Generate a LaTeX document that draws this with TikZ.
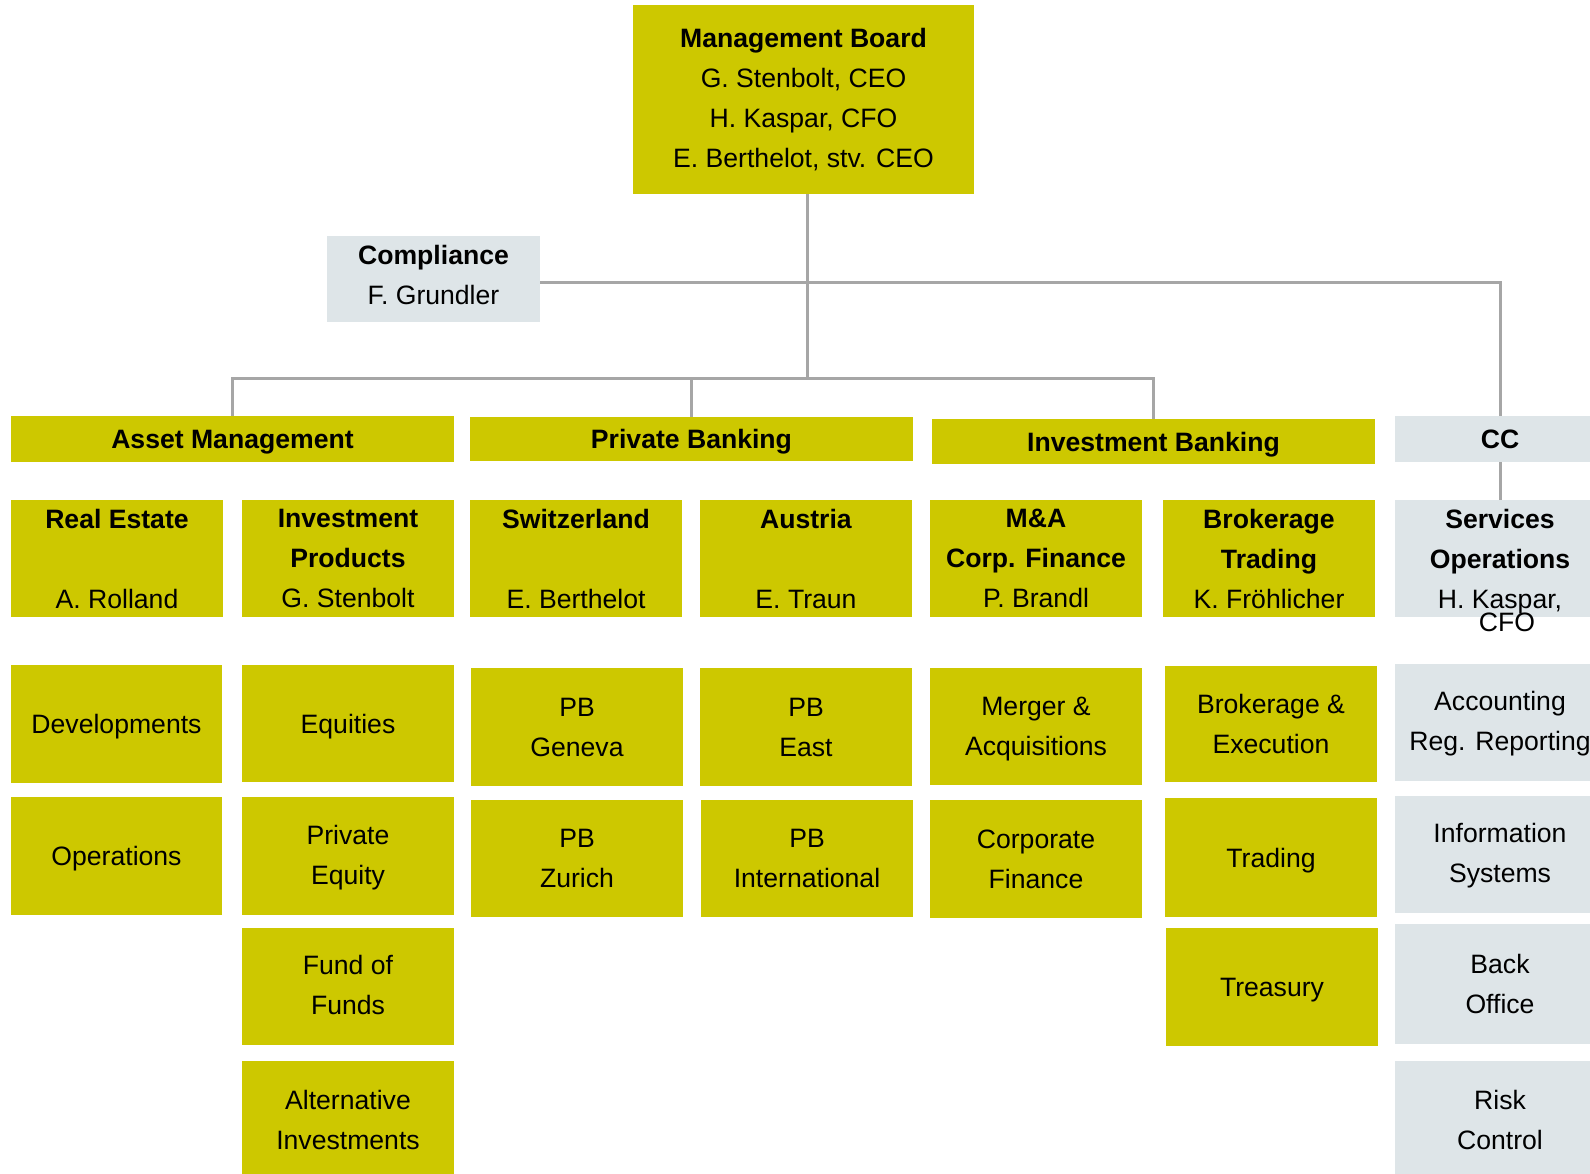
\documentclass[tikz,border=0pt]{standalone}
\usepackage{fontspec}
\setmainfont{Liberation Sans}
\definecolor{boxyellow}{RGB}{205,200,0}
\definecolor{boxgray}{RGB}{222,229,232}
\definecolor{linegray}{RGB}{166,166,166}
\begin{document}
\begin{tikzpicture}[x=1pt,y=-1pt,
  base/.style={inner sep=0pt, outer sep=0pt, anchor=north west, align=center,
    font=\fontsize{26.6}{40}\selectfont, text=black, text depth=0pt},
  ybox/.style={base, fill=boxyellow},
  gbox/.style={base, fill=boxgray},
  conn/.style={draw=linegray, line width=3pt},
  sz/.style 2 args={minimum width=#1pt, minimum height=#2pt}]
\clip (0,0) rectangle (1590,1173);
\fill[white] (0,0) rectangle (1590,1173);

% top
\node[ybox, sz={341}{189}, text depth=4pt] (mb) at (633,5) {\textbf{Management Board}\\G. Stenbolt, CEO\\H. Kaspar, CFO\\E. Berthelot, stv. CEO};
\node[gbox, sz={213}{86}, text depth=9pt] (comp) at (327,236) {\textbf{Compliance}\\F. Grundler};

% headers
\node[ybox, sz={443}{46}] (am) at (11,416) {\textbf{Asset Management}};
\node[ybox, sz={443}{44}] (pb) at (470,417) {\textbf{Private Banking}};
\node[ybox, sz={443}{45}] (ib) at (932,419) {\textbf{Investment Banking}};
\node[gbox, sz={210}{46}] (cc) at (1395,416) {\textbf{CC}};

% row 2
\node[ybox, sz={212}{117}] (re) at (11,500) {\textbf{Real Estate}\\~\\A. Rolland};
\node[ybox, sz={212}{117}] (ip) at (242,500) {\textbf{Investment}\\\textbf{Products}\\G. Stenbolt};
\node[ybox, sz={212}{117}] (sw) at (470,500) {\textbf{Switzerland}\\~\\E. Berthelot};
\node[ybox, sz={212}{117}] (at) at (700,500) {\textbf{Austria}\\~\\E. Traun};
\node[ybox, sz={212}{117}] (ma) at (930,500) {\textbf{M\&A}\\\textbf{Corp. Finance}\\P. Brandl};
\node[ybox, sz={212}{117}] (bt) at (1163,500) {\textbf{Brokerage}\\\textbf{Trading}\\K. Fröhlicher};
\node[gbox, sz={210}{117}] (svc) at (1395,500) {\textbf{Services}\\\textbf{Operations}\\H. Kaspar,};
\node[inner sep=0pt, font=\fontsize{26.6}{40}\selectfont] (cfo) at (1507,622) {CFO};

% row 3
\node[ybox, sz={211}{118}] (dev) at (11,665) {Developments};
\node[ybox, sz={212}{117}] (eq) at (242,665) {Equities};
\node[ybox, sz={212}{118}] (gen) at (471,668) {PB\\Geneva};
\node[ybox, sz={212}{118}] (east) at (700,668) {PB\\East};
\node[ybox, sz={212}{117}] (mer) at (930,668) {Merger \&\\Acquisitions};
\node[ybox, sz={212}{116}] (bex) at (1165,666) {Brokerage \&\\Execution};
\node[gbox, sz={210}{117}, text depth=3pt] (acc) at (1395,664) {Accounting\\Reg. Reporting};

% row 4
\node[ybox, sz={211}{118}] (ops) at (11,797) {Operations};
\node[ybox, sz={212}{118}, text depth=2pt] (peq) at (242,797) {Private\\Equity};
\node[ybox, sz={212}{117}] (zur) at (471,800) {PB\\Zurich};
\node[ybox, sz={212}{117}] (intl) at (701,800) {PB\\International};
\node[ybox, sz={212}{118}] (cf) at (930,800) {Corporate\\Finance};
\node[ybox, sz={212}{119}] (trd) at (1165,798) {Trading};
\node[gbox, sz={210}{117}, text depth=3pt] (isys) at (1395,796) {Information\\Systems};

% row 5
\node[ybox, sz={212}{117}, text depth=3pt] (fof) at (242,928) {Fund of\\Funds};
\node[ybox, sz={212}{118}] (trs) at (1166,928) {Treasury};
\node[gbox, sz={210}{120}] (bo) at (1395,924) {Back\\Office};

% row 6
\node[ybox, sz={212}{117}] (alt) at (242,1061) {Alternative\\Investments};
\node[gbox, sz={210}{117}] (risk) at (1395,1061) {Risk\\Control};

% connectors
\coordinate (bus) at (807,379);
\coordinate (cline) at (807,282);
\draw[conn] (mb.south -| bus) -- (bus);
\draw[conn] (comp.east |- cline) -| (cc.north);
\draw[conn] (am.north) -- ++(0,-38) -| (ib.north);
\draw[conn] (pb.north) -- (pb.north |- bus);
\draw[conn] (cc.south) -- (svc.north);
\end{tikzpicture}
\end{document}
